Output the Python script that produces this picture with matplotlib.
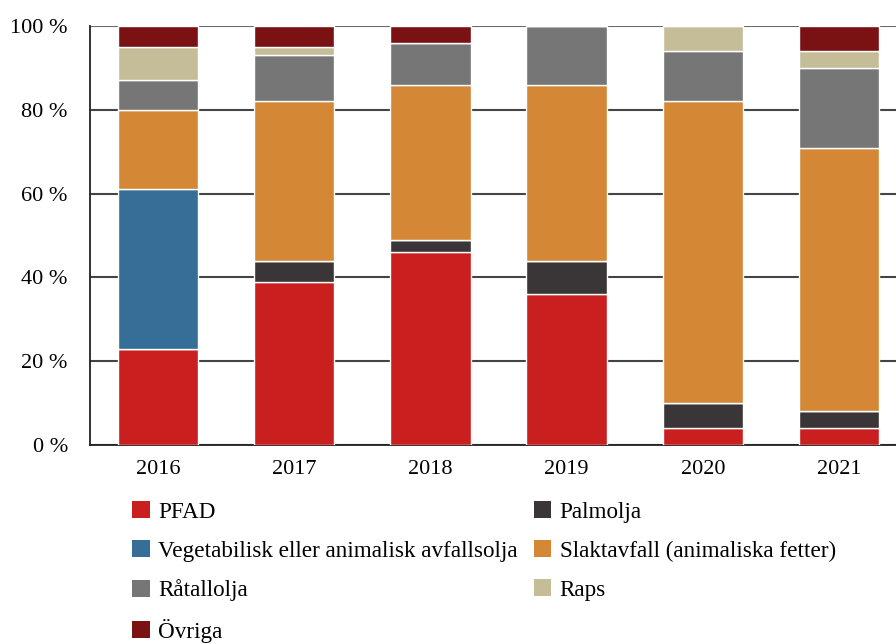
import numpy as np
import matplotlib.pyplot as plt
from matplotlib.patches import Patch

plt.rcParams['font.family'] = ['Liberation Serif', 'DejaVu Serif']

# data (percent of total)
years = ['2016', '2017', '2018', '2019', '2020', '2021']
pfad = [23, 39, 46, 36, 4, 4]
palmolja = [0, 5, 3, 8, 6, 4]
avfallsolja = [38, 0, 0, 0, 0, 0]
slaktavfall = [19, 38, 37, 42, 72, 63]
ratallolja = [7, 11, 10, 14, 12, 19]
raps = [8, 2, 0, 0, 6, 4]
ovriga = [5, 5, 4, 0, 0, 6]

series = [
    ('PFAD', pfad, '#C91F1F'),
    ('Palmolja', palmolja, '#3A3536'),
    ('Vegetabilisk eller animalisk avfallsolja', avfallsolja, '#356E96'),
    ('Slaktavfall (animaliska fetter)', slaktavfall, '#D48836'),
    ('Råtallolja', ratallolja, '#767676'),
    ('Raps', raps, '#C5BD98'),
    ('Övriga', ovriga, '#7A1214'),
]

fig = plt.figure(figsize=(8.96, 6.44), dpi=100)
ax = fig.add_axes([90 / 896, 1 - 445 / 644, 817 / 896, 419 / 644])

x = np.arange(len(years))
bottom = np.zeros(len(years))
handles = {}
for name, vals, col in series:
    vals = np.array(vals, dtype=float)
    ax.bar(x, vals, width=0.59, bottom=bottom, color=col, edgecolor='white',
           linewidth=1, zorder=3)
    bottom += vals
    handles[name] = Patch(facecolor=col, edgecolor='none')

ax.set_xlim(-0.5, 5.5)
ax.set_ylim(0, 100)
ax.set_yticks([0, 20, 40, 60, 80, 100])
ax.set_yticklabels([f'{v} %' for v in [0, 20, 40, 60, 80, 100]])
ax.set_xticks(x)
ax.set_xticklabels(years)
ax.tick_params(axis='both', length=0, labelsize=16)
ax.tick_params(axis='y', pad=16)
ax.tick_params(axis='x', pad=11)

ax.yaxis.grid(True, color='#444444', linewidth=1.5, zorder=0)
ax.get_ygridlines()[-1].set_color('#6a6a6a')
ax.set_axisbelow(True)
for s in ['top', 'right']:
    ax.spines[s].set_visible(False)
ax.spines['left'].set_color('#222222')
ax.spines['bottom'].set_color('#222222')
ax.spines['left'].set_linewidth(1.3)
ax.spines['bottom'].set_linewidth(1.3)

order = ['PFAD', 'Vegetabilisk eller animalisk avfallsolja', 'Råtallolja', 'Övriga',
         'Palmolja', 'Slaktavfall (animaliska fetter)', 'Raps']
fig.legend([handles[n] for n in order], order, ncol=2, frameon=False,
           loc='upper left', bbox_to_anchor=(123 / 896, 1 - 492 / 644),
           fontsize=16.7, handlelength=0.75, handleheight=0.75, handletextpad=0.36,
           labelspacing=0.75, columnspacing=0.7, borderaxespad=0)

fig.savefig('out.png', dpi=100)
